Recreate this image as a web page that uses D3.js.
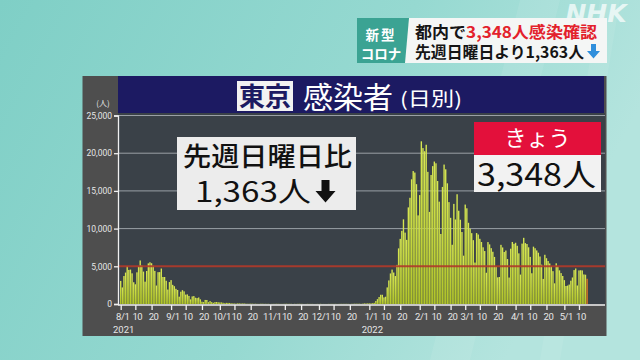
<!DOCTYPE html>
<html><head><meta charset="utf-8">
<script src="https://cdn.jsdelivr.net/npm/d3@7"></script>
<style>
html,body{margin:0;padding:0;background:#8fd4cc;}
svg{display:block;}
text{font-family:"Noto Sans CJK JP","Noto Sans",sans-serif;}
.ax text{font-family:Roboto,"DejaVu Sans",sans-serif;fill:#e6e6e6;}
</style></head>
<body>
<svg id="c" width="640" height="360"></svg>
<script>
// ---- data: Tokyo daily new cases, 2021-08-01 .. 2022-05-15 ----
const startDay = "2021-08-01";
const aug2021 = [3058,2195,3709,4166,5042,4515,4566,4066,2884,2612,4200,4989,5773,5094,4295,2962,4377,5386,5534,5405,5074,4392,2447,4220,4228,4704,3581,3581,3081,1915,2909];
const sep2021 = [3168,2539,2362,2014,1853,968,1629,1834,1675,1242,1273,1067,611,1004,1052,831,782,862,616,302,253,537,531,235,382,239,154,248,267,218];
const oct2021 = [200,203,161,87,149,144,138,82,74,60,49,77,72,62,62,66,40,29,36,41,36,26,32,19,17,29,36,21,23,22,22];
const nov2021 = [9,18,17,22,26,20,19,13,18,25,29,22,21,20,6,20,12,23,24,24,15,5,12,19,14,16,15,8,7,15];
const dec2021 = [12,23,8,12,7,9,16,13,21,13,20,12,12,22,21,19,24,21,20,11,23,28,37,32,37,36,20,46,76,64,78];
const jan2022 = [79,84,103,151,390,641,922,1224,1223,871,962,2198,3124,4051,4561,4172,3709,5185,7377,8638,9699,11227,9468,8503,12813,14086,16538,17631,17433,15895,11751];
const feb2022 = [14445,21576,20679,20262,21120,17526,12214,17113,18287,18891,18660,16311,13575,9287,15525,18492,17864,16005,13513,11428,7854,13276,11211,14556,12370,11176,9545,6409];
const mar2022 = [13186,12693,10769,9994,9397,8466,5493,9408,9217,8646,8222,7519,7023,4143,8215,7905,7403,6929,6244,4979,3533,3582,7846,7498,6894,7091,5961,3508,7335,8226,7982];
const apr2022 = [8122,7720,6716,3899,8009,8777,8073,7957,7520,6246,4076,7604,7394,7105,6803,6302,5218,3327,6528,6074,5701,5376,5038,4355,2740,5396,5000,4461,4095,3714];
const may2022 = [3163,2390,2442,2577,3089,3517,4496,4711,2451,4451,4477,4450,3922,3885,3348];
const yTicks = [0,5000,10000,15000,20000,25000];
const gridValues = [10000,15000,20000,25000];
const refLine = 5000;
const xTickDays = ["2021-08-01","2021-08-10","2021-08-20","2021-09-01","2021-09-10","2021-09-20",
  "2021-10-01","2021-10-10","2021-10-20","2021-11-01","2021-11-10","2021-11-20",
  "2021-12-01","2021-12-10","2021-12-20","2022-01-01","2022-01-10","2022-01-20",
  "2022-02-01","2022-02-10","2022-02-20","2022-03-01","2022-03-10","2022-03-20",
  "2022-04-01","2022-04-10","2022-04-20","2022-05-01","2022-05-10"];
const yearLabels = [{day:"2021-08-01",label:"2021"},{day:"2022-01-01",label:"2022"}];

const values = [].concat(aug2021,sep2021,oct2021,nov2021,dec2021,jan2022,feb2022,mar2022,apr2022,may2022);
const parse = d3.timeParse("%Y-%m-%d");
const t0 = parse(startDay);
const data = values.map((v,i)=>({date:d3.timeDay.offset(t0,i), v}));
const tLast = data[data.length-1].date;

const svg = d3.select("#c");
const defs = svg.append("defs");
const bg = defs.append("linearGradient").attr("id","bg").attr("x1","0").attr("y1","0").attr("x2","1").attr("y2","0.3");
bg.append("stop").attr("offset","0").attr("stop-color","#7fcfc6");
bg.append("stop").attr("offset","0.6").attr("stop-color","#96d9d1");
bg.append("stop").attr("offset","1").attr("stop-color","#b4e4de");
const bar = defs.append("linearGradient").attr("id","bar").attr("x1","0").attr("y1","0").attr("x2","0").attr("y2","1");
bar.append("stop").attr("offset","0").attr("stop-color","#d8e852");
bar.append("stop").attr("offset","1").attr("stop-color","#b0c428");

svg.append("rect").attr("width",640).attr("height",360).attr("fill","url(#bg)");
svg.append("path").attr("d","M520,0 L560,0 L470,360 L430,360 Z").attr("fill","#ffffff").attr("opacity",0.08);
svg.append("path").attr("d","M600,0 L620,0 L560,360 L540,360 Z").attr("fill","#ffffff").attr("opacity",0.08);

// NHK logo (behind caption box)
svg.append("text").attr("x",596).attr("y",22).attr("text-anchor","middle")
  .attr("font-size",25).attr("font-weight","bold").attr("font-style","italic")
  .attr("fill","#ffffff").attr("opacity",0.7).style("font-family","'DejaVu Sans',sans-serif").text("NHK");

// caption box
svg.append("rect").attr("x",357).attr("y",18).attr("width",250).attr("height",45).attr("fill","#f4f6f5");
svg.append("path").attr("d","M357,18 L409,18 L405,63 L357,63 Z").attr("fill","#3ba393");
svg.append("text").attr("x",381).attr("y",40).attr("text-anchor","middle").attr("font-size",13.5)
  .attr("font-weight","bold").attr("fill","#fff").attr("letter-spacing",2).text("新型");
svg.append("text").attr("x",381).attr("y",58.5).attr("text-anchor","middle").attr("font-size",13.5)
  .attr("font-weight","bold").attr("fill","#fff").text("コロナ");
const cap1 = svg.append("text").attr("x",415).attr("y",38).attr("font-size",16)
  .attr("font-weight","bold").attr("textLength",182).attr("lengthAdjust","spacingAndGlyphs");
cap1.append("tspan").attr("fill","#151515").text("都内で");
cap1.append("tspan").attr("fill","#e3212b").text("3,348人感染確認");
svg.append("text").attr("x",415).attr("y",57.5).attr("font-size",16).attr("font-weight","bold")
  .attr("textLength",169).attr("lengthAdjust","spacingAndGlyphs")
  .attr("fill","#151515").text("先週日曜日より1,363人");
svg.append("path").attr("d","M591,44 h5 v7 h4 l-6.5,7.5 l-6.5,-7.5 h4 z").attr("fill","#2f8fdc");

// panel
svg.append("rect").attr("x",82.5).attr("y",76).attr("width",524).attr("height",260).attr("fill","#4e4e4e");
svg.append("rect").attr("x",118).attr("y",76).attr("width",486).attr("height",37).attr("fill","#1c1a62");
// title
svg.append("rect").attr("x",237).attr("y",81).attr("width",56).attr("height",30).attr("fill","#f2f2f2");
svg.append("text").attr("x",265).attr("y",106).attr("text-anchor","middle").attr("font-size",26)
  .attr("font-weight","bold").attr("fill","#1c1a62").text("東京");
svg.append("text").attr("x",303).attr("y",107.5).attr("font-size",30).attr("fill","#fff")
  .attr("textLength",90).attr("lengthAdjust","spacingAndGlyphs").text("感染者");
svg.append("text").attr("x",400).attr("y",106).attr("font-size",19).attr("fill","#fff")
  .attr("textLength",62).attr("lengthAdjust","spacingAndGlyphs").text("(日別)");

// plot area
const plot = {l:118, r:605, t:115.5, b:304};
svg.append("rect").attr("x",plot.l).attr("y",113).attr("width",plot.r-plot.l).attr("height",plot.b-113).attr("fill","#3a4148");

const x = d3.scaleTime().domain([t0, tLast]).range([120.7, 587.1]);
const y = d3.scaleLinear().domain([0,25000]).range([plot.b, plot.t]);
const step = x(d3.timeDay.offset(t0,1)) - x(t0);

svg.append("g").selectAll("line").data(gridValues).join("line")
  .attr("x1",plot.l).attr("x2",plot.r).attr("y1",d=>y(d)).attr("y2",d=>y(d))
  .attr("stroke","#9aa0a6").attr("stroke-width",1);

svg.append("g").selectAll("rect").data(data).join("rect")
  .attr("x",d=>x(d.date)-step*0.42).attr("width",step*0.84)
  .attr("y",d=>y(d.v)).attr("height",d=>y(0)-y(d.v))
  .attr("fill",(d,i)=> i===data.length-1 ? "#e07a22" : "url(#bar)");

svg.append("line").attr("x1",plot.l).attr("x2",plot.r).attr("y1",y(refLine)).attr("y2",y(refLine))
  .attr("stroke","#b23a2a").attr("stroke-width",2).attr("opacity",0.9);

// axes
const yAxis = svg.append("g").attr("class","ax").attr("transform",`translate(${plot.l},0)`)
  .call(d3.axisLeft(y).tickValues(yTicks).tickFormat(d3.format(",")).tickSize(4).tickPadding(2));
yAxis.selectAll("text").attr("font-size",8.5);
yAxis.selectAll("line,path").attr("stroke","#f0f0f0").attr("stroke-width",1.3);
svg.append("text").attr("x",103).attr("y",106).attr("text-anchor","middle").attr("font-size",8)
  .attr("fill","#e6e6e6").text("(人)");

const xAxis = svg.append("g").attr("class","ax").attr("transform",`translate(0,${plot.b+1})`)
  .call(d3.axisBottom(x).tickValues(xTickDays.map(parse))
    .tickFormat(d=> d.getDate()===1 ? `${d.getMonth()+1}/1` : `${d.getDate()}`)
    .tickSize(5).tickPadding(3).tickSizeOuter(0));
xAxis.select(".domain").attr("d",`M${plot.l},0H${plot.r}`);
xAxis.selectAll("line,path").attr("stroke","#f0f0f0").attr("stroke-width",1.3);
xAxis.selectAll("text").attr("font-size",9.5).attr("letter-spacing",-0.4).attr("dx",1.5);
svg.append("g").selectAll("text").data(yearLabels).join("text")
  .attr("x",d=>x(parse(d.day))+3).attr("y",333).attr("text-anchor","middle")
  .attr("font-size",9.5).attr("fill","#e6e6e6").style("font-family","Roboto,sans-serif").text(d=>d.label);

// comparison box
svg.append("rect").attr("x",177).attr("y",137).attr("width",179).attr("height",73).attr("fill","#ececec");
svg.append("text").attr("x",183).attr("y",166).attr("font-size",26.5)
  .attr("font-weight",500).attr("fill","#111").attr("textLength",169).attr("lengthAdjust","spacingAndGlyphs")
  .text("先週日曜日比");
svg.append("text").attr("x",195).attr("y",202).attr("font-size",28)
  .attr("fill","#111").attr("textLength",116).attr("lengthAdjust","spacingAndGlyphs").text("1,363人");
svg.append("path").attr("d","M321.5,180 h8 v11 h6 l-10,11.5 l-10,-11.5 h6 z").attr("fill","#111");

// today box
svg.append("rect").attr("x",474).attr("y",122).attr("width",127).attr("height",33).attr("fill","#e3103b");
svg.append("text").attr("x",537.5).attr("y",146).attr("text-anchor","middle").attr("font-size",22)
  .attr("fill","#fff").text("きょう");
svg.append("rect").attr("x",474).attr("y",155).attr("width",127).attr("height",37).attr("fill","#f2f2f2");
svg.append("text").attr("x",477).attr("y",185.5).attr("font-size",31)
  .attr("fill","#111").attr("textLength",119).attr("lengthAdjust","spacingAndGlyphs").text("3,348人");
</script>
</body></html>
